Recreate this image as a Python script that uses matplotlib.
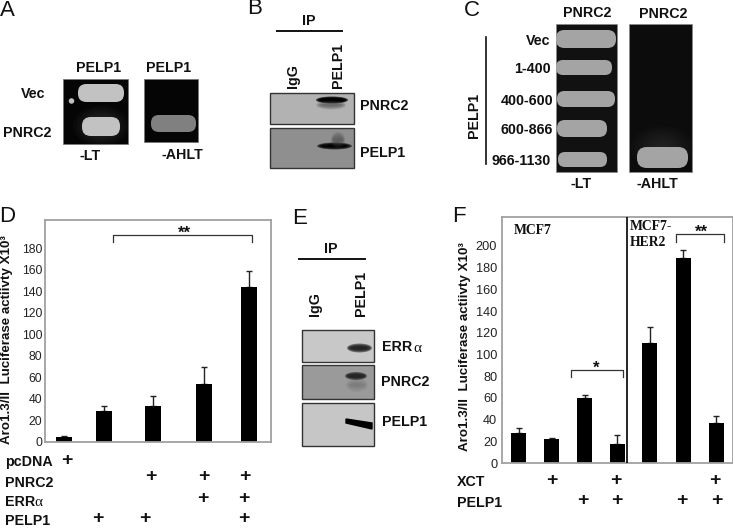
import matplotlib
matplotlib.use('Agg')
import matplotlib.pyplot as plt
from matplotlib.patches import Rectangle, FancyBboxPatch, Ellipse

plt.rcParams['font.family'] = ['Liberation Sans', 'DejaVu Sans']

W, H = 733, 528

# panel D
d_x = [64, 103.7, 152.7, 204, 249]
d_values = [5, 29, 33, 53.5, 144]
d_err = [1, 4.5, 10, 16.5, 15]
d_ticks = list(range(0, 181, 20))
d_rows = ['pcDNA', 'PNRC2', 'ERR', 'PELP1']

# panel F
f_x = [518.7, 551.7, 584.7, 617, 649.7, 683, 716]
f_values = [27.5, 22, 59.5, 17.5, 111, 188.5, 37]
f_err = [4.5, 1, 3.5, 8.5, 14, 7.5, 6]
f_ticks = list(range(0, 201, 20))

ylabel_text = 'Aro1.3/II  Luciferase actiivty X10\u00b3'

fig = plt.figure(figsize=(W / 100, H / 100), dpi=100)


def px_axes(left, top, right, bottom):
    return fig.add_axes([left / W, 1 - bottom / H, (right - left) / W, (bottom - top) / H])


def bar_panel(box, xs, values, err, ticks, ymax, width, size, pad):
    ax = px_axes(*box)
    ax.bar(xs, values, width=width, color='black', zorder=2)
    ax.errorbar(xs, values, yerr=[[0] * len(err), err], fmt='none', ecolor='#222222',
                elinewidth=1, capsize=2, capthick=1, zorder=1)
    ax.set_xlim(box[0], box[2])
    ax.set_ylim(0, ymax)
    ax.set_xticks([])
    ax.set_yticks(ticks)
    ax.tick_params(axis='y', length=0, pad=pad, labelsize=size, labelcolor='#222222')
    for s in ax.spines.values():
        s.set_color('#a0a0a0')
        s.set_linewidth(1.3)
    return ax


bar_panel((45, 220, 271, 442), d_x, d_values, d_err, d_ticks, 206, 16, 8.8, 2)
ax_f = bar_panel((502, 217, 732.5, 463), f_x, f_values, f_err, f_ticks, 226.7, 15, 9.2, 3.5)
ax_f.axvline(627, color='black', lw=1.2, zorder=3)

# everything else is placed in pixels on a clear overlay
ov = fig.add_axes([0, 0, 1, 1], facecolor='none')
ov.set_xlim(0, W)
ov.set_ylim(H, 0)
ov.axis('off')


def label(x, y, s, size=10.3, ha='center', rot=0, weight='bold', **kw):
    ov.text(x, y, s, fontsize=size, ha=ha, va='center', rotation=rot, fontweight=weight,
            color='#111111', **kw)


def panel(x, y, s):
    label(x, y, s, size=16, weight='normal')


def box(x0, y0, x1, y1, color, edge='#333333', lw=1):
    ov.add_patch(Rectangle((x0, y0), x1 - x0, y1 - y0, fc=color, ec=edge, lw=lw))


def blob(x0, y0, x1, y1, color='#c2c2c2'):
    r = (y1 - y0) / 2.15
    ov.add_patch(FancyBboxPatch((x0 + r, y0 + r), x1 - x0 - 2 * r, y1 - y0 - 2 * r,
                                boxstyle='round,pad=%f,rounding_size=%f' % (r, r),
                                fc=color, ec='none', mutation_aspect=1))


def band(x0, x1, y, h, color='black', alpha=0.16, n=6):
    for i in range(n):
        f = 1 - i / n
        ov.add_patch(Ellipse(((x0 + x1) / 2, y), (x1 - x0) * (0.55 + 0.45 * f), h * f,
                             fc=color, ec='none', alpha=alpha * 1.6))


def glow(x, y, w, h, color='#777777'):
    for i in range(8):
        f = 1 - i / 8
        ov.add_patch(Ellipse((x, y), w * f, h * f, fc=color, ec='none', alpha=0.05))


def bracket(x0, x1, y, y1):
    ov.plot([x0, x0, x1, x1], [y1, y, y, y1], color='#333333', lw=0.9)


def plus(x, y):
    label(x, y, '+', size=14)


# panel A
panel(7, 10, 'A')
box(63, 79, 128, 144, '#050505', edge='#777777', lw=0.6)
glow(101, 126, 56, 40)
blob(78, 84, 124, 102)
blob(82, 117, 120, 136)
ov.add_patch(Ellipse((71.5, 101), 5.5, 5.5, fc='#c2c2c2', ec='none'))
box(144, 79, 198, 142, '#050505', edge='#777777', lw=0.6)
blob(151, 115, 196, 132, '#808080')
label(99, 68, 'PELP1')
label(169, 68, 'PELP1')
label(33, 94, 'Vec')
label(27.5, 133, 'PNRC2')
label(90, 156, '-LT')
label(182, 155, '-AHLT')

# panel B
panel(255, 9, 'B')
label(309, 21, 'IP')
ov.plot([277, 342], [31, 31], color='#111111', lw=1.4)
label(293, 76, 'IgG', rot=90)
label(338, 65, 'PELP1', rot=90)
box(270, 93, 354, 124, '#b2b2b2')
box(270, 128, 354, 168, '#8f8f8f')
band(316, 348, 100, 7, alpha=0.4)
band(316, 346, 105, 9, color='#444444', alpha=0.1)
band(317, 352, 146, 7, alpha=0.3)
band(331, 345, 140, 16, color='#444444', alpha=0.1)
label(360, 106, 'PNRC2', ha='left')
label(360, 153, 'PELP1', ha='left')

# panel C
panel(472, 10, 'C')
box(556, 24, 617, 172, '#111111', edge='#888888', lw=0.5)
box(629, 24, 692, 172, '#0c0c0c', edge='#888888', lw=0.5)
blob(556, 30, 616, 48, '#a4a4a4')
blob(556, 60, 612, 75, '#a4a4a4')
blob(557, 91, 615, 107, '#a4a4a4')
blob(557, 120, 607, 137, '#a4a4a4')
blob(558, 152, 607, 167, '#a4a4a4')
glow(662, 148, 62, 44, '#555555')
blob(637, 147, 688, 168, '#a4a4a4')
ov.plot([486, 486], [37, 164], color='#111111', lw=1.2)
label(587, 13, 'PNRC2')
label(663, 14, 'PNRC2')
label(474, 115, 'PELP1', rot=90)
label(550, 41, 'Vec', ha='right')
label(551, 69, '1-400', ha='right')
label(553, 101, '400-600', ha='right')
label(553, 130, '600-866', ha='right')
label(551, 161, '966-1130', ha='right')
label(581, 184, '-LT')
label(657, 184, '-AHLT')

# panel D
panel(7, 217, 'D')
label(7.5, 340, ylabel_text, size=9.6, rot=90)
bracket(113, 252, 235, 242)
label(184, 233, '**', size=12)
for y, s in zip([462, 483, 502, 521], d_rows):
    label(5, y, s, ha='left')
ov.text(34.5, 502, '\u03b1', fontsize=11, ha='left', va='center', family='Liberation Serif', color='#111111')
d_plus_x = [67, 151, 204, 245, 203, 244, 98, 145, 244]
d_plus_y = [460, 477, 477, 477, 499, 499, 519, 519, 519]
for x, y in zip(d_plus_x, d_plus_y):
    plus(x, y)

# panel E
panel(300, 218, 'E')
label(331, 249, 'IP')
ov.plot([299, 365], [259, 259], color='#111111', lw=1.4)
label(315, 304, 'IgG', rot=90)
label(361, 293, 'PELP1', rot=90)
box(302, 330, 374, 362, '#c8c8c8')
box(302, 365, 374, 399, '#9a9a9a')
box(302, 403, 374, 446, '#c6c6c6')
band(347, 372, 348, 9, color='#222222', alpha=0.3)
band(345, 367, 376, 8, color='#222222', alpha=0.3)
band(346, 368, 385, 14, color='#555555', alpha=0.05)
ov.fill([346, 372, 372, 346], [419, 423, 429, 423], color='black')
label(382, 347, 'ERR', ha='left')
ov.text(413.5, 348, '\u03b1', fontsize=11, ha='left', va='center', family='Liberation Serif', color='#111111')
label(381, 382, 'PNRC2', ha='left')
label(382, 422, 'PELP1', ha='left')

# panel F
panel(459, 216, 'F')
label(465, 347, ylabel_text, size=9.6, rot=90)
label(514, 231, 'MCF7', size=9.8, ha='left', family='Liberation Serif')
label(630, 227, 'MCF7-', size=9.8, ha='left', family='Liberation Serif')
label(630, 243, 'HER2', size=9.8, ha='left', family='Liberation Serif')
bracket(571, 623, 370, 377)
label(596, 368, '*', size=12)
bracket(676, 724, 234, 242)
label(701, 232, '**', size=12)
label(457, 482, 'XCT', ha='left')
label(457, 503, 'PELP1', ha='left')
f_plus_x = [552, 616, 715, 583, 617, 682, 717]
f_plus_y = [481, 481, 481, 501, 501, 501, 501]
for x, y in zip(f_plus_x, f_plus_y):
    plus(x, y)

fig.savefig('out.png', dpi=100)
